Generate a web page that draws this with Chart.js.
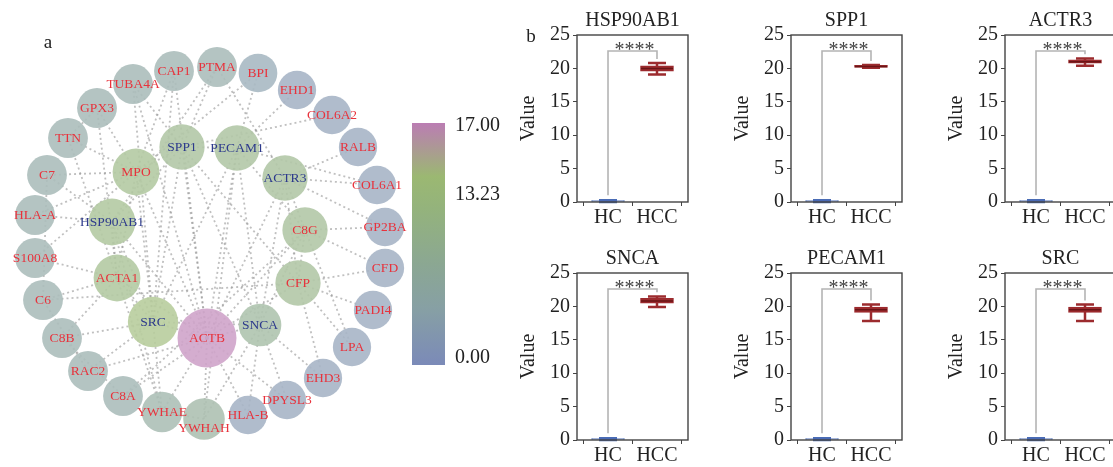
<!DOCTYPE html>
<html>
<head>
<meta charset="utf-8">
<script src="https://cdn.jsdelivr.net/npm/chart.js@4.4.1/dist/chart.umd.min.js"></script>
<style>
  html, body { margin: 0; padding: 0; background: #fff; overflow: hidden; width: 1113px; height: 467px; }
  canvas { position: absolute; }
</style>
</head>
<body>
<canvas id="net" width="520" height="467" style="left:0;top:0"></canvas>
<script>
// ---- panel a: PPI network ----
const nodeNames = ["TUBA4A", "CAP1", "PTMA", "BPI", "EHD1", "COL6A2", "RALB", "COL6A1", "GP2BA", "CFD",
  "PADI4", "LPA", "EHD3", "DPYSL3", "HLA-B", "YWHAH", "YWHAE", "C8A", "RAC2", "C8B",
  "C6", "S100A8", "HLA-A", "C7", "TTN", "GPX3",
  "SPP1", "PECAM1", "MPO", "ACTR3", "HSP90AB1", "C8G", "ACTA1", "CFP", "SRC", "ACTB", "SNCA"];
const nodeDegree = [5, 5, 5, 3, 2, 2, 2, 2, 2, 2,
  2, 2, 2, 2, 2, 7, 6, 5, 5, 5,
  5, 5, 5, 5, 5, 5,
  10, 10, 11, 10, 11, 10, 11, 10, 13, 17, 8];
// layout of the network (layout units, same frame as the original drawing)
const layoutX = [133, 174, 217, 258, 297, 332, 358, 377, 385, 385,
  373, 352, 323, 287, 248, 204, 162, 123, 88, 62,
  43, 35, 35, 47, 68, 97,
  182, 237, 136, 285, 112, 305, 117, 298, 153, 207, 260];
const layoutY = [84, 71, 67, 73, 90, 115, 147, 185, 227, 268,
  310, 347, 378, 400, 415, 419, 412, 396, 371, 338,
  300, 258, 215, 175, 138, 108,
  147, 148, 172, 178, 222, 230, 278, 283, 322, 338, 325];
const blueLabels = ["SPP1", "PECAM1", "ACTR3", "HSP90AB1", "SRC", "SNCA"];
const edges = [
  ["ACTB", "SRC"], ["ACTB", "SNCA"], ["ACTB", "ACTA1"], ["ACTB", "HSP90AB1"], ["ACTB", "YWHAH"],
  ["ACTB", "YWHAE"], ["ACTB", "HLA-B"], ["ACTB", "PECAM1"], ["ACTB", "SPP1"], ["ACTB", "ACTR3"],
  ["ACTB", "MPO"], ["ACTB", "CAP1"], ["ACTB", "TUBA4A"], ["ACTB", "RAC2"], ["ACTB", "C8A"],
  ["ACTB", "CFP"], ["ACTB", "DPYSL3"], ["ACTB", "C8G"],
  ["SRC", "HSP90AB1"], ["SRC", "SPP1"], ["SRC", "PECAM1"], ["SRC", "ACTA1"], ["SRC", "YWHAE"],
  ["SRC", "RAC2"], ["SRC", "SNCA"], ["SRC", "C8B"], ["SRC", "MPO"], ["SRC", "CAP1"], ["SRC", "TUBA4A"],
  ["MPO", "GPX3"], ["MPO", "TTN"], ["MPO", "C7"], ["MPO", "SPP1"], ["MPO", "HLA-A"],
  ["MPO", "S100A8"], ["MPO", "BPI"], ["MPO", "CAP1"], ["MPO", "ACTA1"],
  ["HSP90AB1", "HLA-A"], ["HSP90AB1", "C7"], ["HSP90AB1", "YWHAE"], ["HSP90AB1", "PTMA"],
  ["HSP90AB1", "ACTA1"], ["HSP90AB1", "SPP1"],
  ["ACTA1", "TTN"], ["ACTA1", "C6"], ["ACTA1", "S100A8"], ["ACTA1", "C8B"], ["ACTA1", "YWHAE"],
  ["SPP1", "PTMA"], ["SPP1", "TUBA4A"], ["SPP1", "COL6A2"], ["SPP1", "CFP"], ["SPP1", "PECAM1"], ["SPP1", "SNCA"],
  ["PECAM1", "EHD1"], ["PECAM1", "COL6A1"], ["PECAM1", "BPI"], ["PECAM1", "C8G"], ["PECAM1", "YWHAH"],
  ["PECAM1", "SNCA"],
  ["ACTR3", "RALB"], ["ACTR3", "COL6A1"], ["ACTR3", "PTMA"], ["ACTR3", "GP2BA"], ["ACTR3", "C8G"],
  ["ACTR3", "SNCA"], ["ACTR3", "CFP"],
  ["C8G", "GP2BA"], ["C8G", "CFD"], ["C8G", "LPA"], ["C8G", "C8A"], ["C8G", "CFP"], ["C8G", "SNCA"],
  ["CFP", "CFD"], ["CFP", "PADI4"], ["CFP", "LPA"], ["CFP", "EHD3"], ["CFP", "C6"],
  ["SNCA", "DPYSL3"], ["SNCA", "YWHAH"], ["SNCA", "HLA-B"], ["SNCA", "EHD3"],
  ["YWHAH", "YWHAE"], ["C7", "C6"], ["C8B", "C8A"], ["RAC2", "C6"], ["GPX3", "TTN"], ["GPX3", "ACTA1"]
];

// colour scale (degree)
const cbValues = [0, 4, 7, 11, 13.23, 17];
const cbColors = ["#7b8ab8", "#87a0a4", "#8ba793", "#94b37c", "#9bb872", "#bb7db3"];
const cbTicks = [0, 13.23, 17];
const cbMax = 17;

function hexToRgb(h) {
  return [parseInt(h.slice(1, 3), 16), parseInt(h.slice(3, 5), 16), parseInt(h.slice(5, 7), 16)];
}

function scaleColor(v) {
  let i = 0;
  while (i < cbValues.length - 2 && v > cbValues[i + 1]) i++;
  const t = Math.min(1, Math.max(0, (v - cbValues[i]) / (cbValues[i + 1] - cbValues[i])));
  const a = hexToRgb(cbColors[i]), b = hexToRgb(cbColors[i + 1]);
  return a.map((c, k) => c + (b[k] - c) * t);
}

function nodeColor(v) {
  // nodes are a faded version of the colour bar
  const c = scaleColor(v).map(x => Math.round(x * 0.7 + 255 * 0.3));
  return `rgba(${c[0]},${c[1]},${c[2]},0.9)`;
}

function nodeRadius(v) {
  return 19 + 10.5 * Math.pow(v / cbMax, 2);
}

const netEdges = {
  id: "netEdges",
  beforeDatasetsDraw(chart) {
    const { ctx, scales: { x, y } } = chart;
    ctx.save();
    ctx.strokeStyle = "rgba(150,150,150,0.6)";
    ctx.lineWidth = 1.8;
    ctx.setLineDash([2, 3]);
    edges.forEach(([s, t]) => {
      const i = nodeNames.indexOf(s), j = nodeNames.indexOf(t);
      ctx.beginPath();
      ctx.moveTo(x.getPixelForValue(layoutX[i]), y.getPixelForValue(layoutY[i]));
      ctx.lineTo(x.getPixelForValue(layoutX[j]), y.getPixelForValue(layoutY[j]));
      ctx.stroke();
    });
    ctx.restore();
  }
};

const netLabels = {
  id: "netLabels",
  afterDatasetsDraw(chart) {
    const { ctx, scales: { x, y } } = chart;
    ctx.save();
    ctx.font = "13.5px 'Liberation Serif', 'Times New Roman', serif";
    ctx.textAlign = "center";
    ctx.textBaseline = "middle";
    nodeNames.forEach((n, i) => {
      ctx.fillStyle = blueLabels.includes(n) ? "#2d3a8c" : "#e8323c";
      const dy = n === "YWHAH" ? 9 : 0;
      ctx.fillText(n, x.getPixelForValue(layoutX[i]), y.getPixelForValue(layoutY[i]) + dy);
    });
    // panel letter
    ctx.fillStyle = "#222";
    ctx.font = "19px 'Liberation Serif', serif";
    ctx.fillText("a", 48, 43);
    ctx.restore();
  }
};

const colorBar = {
  id: "colorBar",
  afterDraw(chart) {
    const ctx = chart.ctx;
    const left = 412, right = 445, top = 123, bottom = 365;
    const labelY = [358, 195, 126];
    ctx.save();
    const g = ctx.createLinearGradient(0, bottom, 0, top);
    cbValues.forEach((v, i) => g.addColorStop(v / cbMax, cbColors[i]));
    ctx.fillStyle = g;
    ctx.fillRect(left, top, right - left, bottom - top);
    ctx.fillStyle = "#222";
    ctx.font = "20px 'Liberation Serif', serif";
    ctx.textAlign = "left";
    ctx.textBaseline = "middle";
    cbTicks.forEach((v, i) => ctx.fillText(v.toFixed(2), 455, labelY[i]));
    ctx.restore();
  }
};

new Chart(document.getElementById("net"), {
  type: "bubble",
  data: {
    datasets: [{
      data: nodeNames.map((n, i) => ({ x: layoutX[i], y: layoutY[i], r: nodeRadius(nodeDegree[i]) })),
      backgroundColor: nodeDegree.map(nodeColor),
      borderWidth: 0,
      clip: false
    }]
  },
  options: {
    responsive: false,
    animation: false,
    events: [],
    layout: { autoPadding: false, padding: { left: 0, right: 110, top: 0, bottom: 0 } },
    scales: {
      x: { type: "linear", min: 0, max: 410, display: false },
      y: { type: "linear", min: 0, max: 467, reverse: true, display: false }
    },
    plugins: { legend: { display: false }, tooltip: { enabled: false } }
  },
  plugins: [netEdges, netLabels, colorBar]
});

// ---- panel b: box plots ----
const genes = ["HSP90AB1", "SPP1", "ACTR3", "SNCA", "PECAM1", "SRC"];
const groups = ["HC", "HCC"];
const hcLow = [0, 0, 0, 0, 0, 0];
const hcQ1 = [0, 0, 0, 0, 0, 0];
const hcMedian = [0.1, 0.1, 0.1, 0.1, 0.1, 0.1];
const hcQ3 = [0.2, 0.2, 0.2, 0.2, 0.2, 0.2];
const hcHigh = [0.25, 0.25, 0.25, 0.25, 0.25, 0.25];
const hccLow = [19.1, 20.1, 20.4, 19.9, 17.8, 17.8];
const hccQ1 = [19.6, 20.15, 20.8, 20.5, 19.1, 19.1];
const hccMedian = [20.0, 20.3, 21.0, 20.8, 19.5, 19.5];
const hccQ3 = [20.4, 20.45, 21.3, 21.2, 19.9, 19.9];
const hccHigh = [20.8, 20.5, 21.5, 21.5, 20.3, 20.3];
const yTicks = [0, 5, 10, 15, 20, 25];
const sigLabel = "****";
const bracketTop = 22.6;
const bracketStart = 1.0;

const serif = "'Liberation Serif', 'Times New Roman', serif";
const hcColor = "#4a6cb5";
const hccColor = "#9c2b2e";
const plotLefts = [577, 791, 1005];
const rowTops = [0, 238];

const boxExtras = {
  id: "boxExtras",
  beforeDatasetsDraw(chart, args, opts) {
    const { ctx, scales: { x, y } } = chart;
    const i = opts.index;
    const stats = [[hcLow[i], hcHigh[i]], [hccLow[i], hccHigh[i]]];
    ctx.save();
    // significance bracket
    const x0 = x.getPixelForValue(0), x1 = x.getPixelForValue(1);
    const yb = y.getPixelForValue(bracketTop);
    const rightEnd = Math.min(hccHigh[i] + 0.6, bracketTop - 0.3);
    ctx.strokeStyle = "#b4b4b4";
    ctx.lineWidth = 1.6;
    ctx.beginPath();
    ctx.moveTo(x0, y.getPixelForValue(bracketStart));
    ctx.lineTo(x0, yb);
    ctx.lineTo(x1, yb);
    ctx.lineTo(x1, y.getPixelForValue(rightEnd));
    ctx.stroke();
    ctx.fillStyle = "#444";
    ctx.font = "20px " + serif;
    ctx.textAlign = "center";
    ctx.textBaseline = "alphabetic";
    ctx.fillText(sigLabel, (x0 + x1) / 2 + 2, yb + 5);
    // whiskers
    stats.forEach(([lo, hi], k) => {
      const px = x.getPixelForValue(k);
      ctx.strokeStyle = k === 0 ? hcColor : hccColor;
      ctx.lineWidth = 2.5;
      ctx.beginPath();
      ctx.moveTo(px, y.getPixelForValue(lo));
      ctx.lineTo(px, y.getPixelForValue(hi));
      ctx.stroke();
      ctx.beginPath();
      [lo, hi].forEach(v => {
        ctx.moveTo(px - 9, y.getPixelForValue(v));
        ctx.lineTo(px + 9, y.getPixelForValue(v));
      });
      ctx.stroke();
    });
    ctx.restore();
  },
  afterDatasetsDraw(chart, args, opts) {
    const { ctx, scales: { x, y } } = chart;
    const i = opts.index;
    const meds = [hcMedian[i], hccMedian[i]];
    ctx.save();
    ctx.strokeStyle = "#6a1416";
    ctx.lineWidth = 1.5;
    const px = x.getPixelForValue(1);
    ctx.beginPath();
    ctx.moveTo(px - 16, y.getPixelForValue(meds[1]));
    ctx.lineTo(px + 16, y.getPixelForValue(meds[1]));
    ctx.stroke();
    ctx.restore();
  },
  afterDraw(chart, args, opts) {
    const { ctx, chartArea: a } = chart;
    ctx.save();
    ctx.strokeStyle = "#444";
    ctx.lineWidth = 1.4;
    ctx.strokeRect(a.left, a.top, a.right - a.left, a.bottom - a.top);
    if (opts.panel) {
      ctx.fillStyle = "#222";
      ctx.font = "19px " + serif;
      ctx.textAlign = "center";
      ctx.textBaseline = "middle";
      ctx.fillText(opts.panel, 14, 37);
    }
    ctx.restore();
  }
};

genes.forEach((gene, i) => {
  const col = i % 3, row = Math.floor(i / 3);
  const cv = document.createElement("canvas");
  cv.width = 175;
  cv.height = 232;
  cv.style.left = (plotLefts[col] - 60) + "px";
  cv.style.top = rowTops[row] + "px";
  document.body.appendChild(cv);

  new Chart(cv, {
    type: "bar",
    data: {
      datasets: [{
        data: [{ x: 0, y: [hcQ1[i], hcQ3[i]] }, { x: 1, y: [hccQ1[i], hccQ3[i]] }],
        backgroundColor: [hcColor, hccColor],
        borderColor: [hcColor, hccColor],
        borderWidth: 1,
        borderSkipped: false,
        barThickness: 33
      }]
    },
    options: {
      responsive: false,
      animation: false,
      events: [],
      layout: { padding: { left: 0, right: 4, top: 0, bottom: 0 } },
      scales: {
        x: {
          type: "linear", min: -0.633, max: 1.633, offset: false,
          afterBuildTicks: s => { s.ticks = groups.map((g, k) => ({ value: k })); },
          afterFit: s => { s.height = 30; },
          ticks: { callback: v => groups[v], font: { family: serif, size: 20 }, color: "#222", padding: 0, maxRotation: 0, autoSkip: false },
          grid: { display: true, drawOnChartArea: false, drawTicks: true, tickLength: 4, tickColor: "#444" },
          border: { display: false }
        },
        y: {
          min: 0, max: 25,
          afterBuildTicks: s => { s.ticks = yTicks.map(v => ({ value: v })); },
          afterFit: s => { s.width = 60; },
          ticks: { font: { family: serif, size: 20 }, color: "#222", padding: 3 },
          grid: { display: true, drawOnChartArea: false, drawTicks: true, tickLength: 4, tickColor: "#444" },
          border: { display: false },
          title: { display: true, text: "Value", font: { family: serif, size: 20 }, color: "#222", padding: 0 }
        }
      },
      plugins: {
        legend: { display: false },
        tooltip: { enabled: false },
        title: { display: true, fullSize: false, text: gene, font: { family: serif, size: 20, weight: "normal" }, color: "#222", padding: { top: 9, bottom: 2 } },
        boxExtras: { index: i, panel: i === 0 ? "b" : "" }
      }
    },
    plugins: [boxExtras]
  });
});
</script>
</body>
</html>
